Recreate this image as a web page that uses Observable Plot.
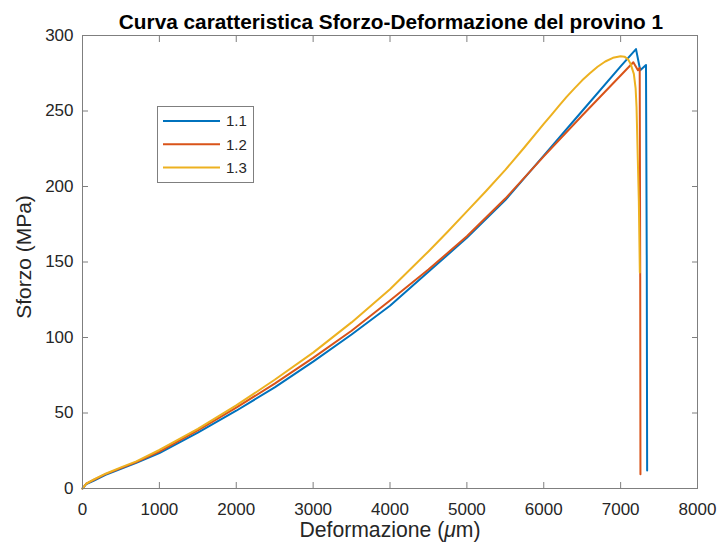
<!DOCTYPE html>
<html><head><meta charset="utf-8">
<script src="https://cdn.jsdelivr.net/npm/d3@7"></script>
<script src="https://cdn.jsdelivr.net/npm/@observablehq/plot@0.6"></script>
<style>body{margin:0;background:#fff}#chart{width:721px;height:546px}</style>
</head><body><div id="chart"></div>
<script>
const seriesNames = ["1.1", "1.2", "1.3"];
const seriesColors = ["#0072BD", "#D95319", "#EDB120"];

const x11 = [0, 50, 150, 300, 500, 700, 1000, 1500, 2000, 2500, 3000, 3500, 4000, 4500, 5000, 5500, 6000, 6500, 7000, 7200, 7255, 7330, 7340, 7345];
const y11 = [0, 3, 5.3, 9, 13, 17, 23.5, 37, 51.5, 67, 84, 102, 121, 143.5, 166, 191, 220.5, 250, 279.5, 291, 277, 280.5, 150, 12];

const x12 = [0, 50, 150, 300, 500, 700, 1000, 1500, 2000, 2500, 3000, 3500, 4000, 4500, 5000, 5500, 6000, 6500, 7000, 7165, 7225, 7248, 7255, 7258];
const y12 = [0, 3.2, 5.8, 9.5, 13.5, 17.5, 24.5, 38.5, 53.5, 69.5, 86.5, 104.5, 124.5, 145, 167, 192, 220, 247, 273.5, 282.3, 277, 278.5, 140, 9.5];

const x13 = [0, 50, 150, 300, 500, 700, 1000, 1500, 2000, 2500, 3000, 3500, 4000, 4500, 4750, 5000, 5250, 5500, 5750, 6000, 6100, 6200, 6300, 6400, 6500, 6600, 6700, 6800, 6900, 7000, 7050, 7100, 7130, 7172, 7195, 7207, 7224, 7237, 7250];
const y13 = [0, 3.3, 6, 9.8, 14, 18, 25.5, 39.5, 55, 72, 90, 110, 132, 157, 170, 183.5, 197, 211, 226, 241.5, 247.5, 253.5, 259.5, 265, 270.3, 275, 279.3, 282.8, 285.2, 286.3, 286, 284, 281.2, 274.6, 265, 252.5, 217, 190, 143];

const xTicks = [0, 1000, 2000, 3000, 4000, 5000, 6000, 7000, 8000];
const yTicks = [0, 50, 100, 150, 200, 250, 300];

const titleText = "Curva caratteristica Sforzo-Deformazione del provino 1";
const xLabelMain = "Deformazione (";
const xLabelMu = "μ";
const xLabelEnd = "m)";
const yLabel = "Sforzo (MPa)";

const rows = [];
[[x11, y11], [x12, y12], [x13, y13]].forEach(([xs, ys], i) =>
  xs.forEach((x, j) => rows.push({series: seriesNames[i], x, y: ys[j]})));

const font = "'Liberation Sans', Arial, Helvetica, sans-serif";
const axisGray = "#7f7f7f";
const textDark = "#262626";
const fmt = d => String(d);

const plot = Plot.plot({
  width: 721, height: 546,
  marginLeft: 82, marginRight: 24, marginTop: 35, marginBottom: 58,
  style: {fontFamily: font, fontSize: "17px", color: textDark, background: "#fff", overflow: "visible"},
  x: {domain: [0, 8000], label: null},
  y: {domain: [0, 300], label: null},
  color: {domain: seriesNames, range: seriesColors},
  marks: [
    Plot.line(rows, {x: "x", y: "y", z: "series", stroke: "series", strokeWidth: 2, strokeLinejoin: "round"}),
    Plot.frame({stroke: axisGray}),
    Plot.axisX(xTicks, {anchor: "bottom", tickSize: -6, fill: "none", stroke: axisGray, label: null}),
    Plot.axisX(xTicks, {anchor: "top", tickSize: -6, fill: "none", stroke: axisGray, label: null}),
    Plot.axisY(yTicks, {anchor: "left", tickSize: -6, fill: "none", stroke: axisGray, label: null}),
    Plot.axisY(yTicks, {anchor: "right", tickSize: -6, fill: "none", stroke: axisGray, label: null}),
    Plot.axisX(xTicks, {anchor: "bottom", tickSize: 0, tickPadding: 14, tickFormat: fmt, fill: textDark, fontSize: 17, label: null}),
    Plot.axisY(yTicks, {anchor: "left", tickSize: 0, tickPadding: 9, tickFormat: fmt, fill: textDark, fontSize: 17, label: null})
  ]
});

document.getElementById("chart").appendChild(plot);

const svg = d3.select(plot);
// title
svg.append("text")
  .attr("x", 391).attr("y", 29)
  .attr("text-anchor", "middle")
  .attr("font-family", font).attr("font-size", 20.8).attr("font-weight", "bold")
  .attr("fill", "#000").text(titleText);
// x-axis label with italic mu
const xl = svg.append("text")
  .attr("x", 390).attr("y", 537)
  .attr("text-anchor", "middle")
  .attr("font-family", font).attr("font-size", 21.2).attr("fill", textDark);
xl.append("tspan").text(xLabelMain);
xl.append("tspan").attr("font-style", "italic").text(xLabelMu);
xl.append("tspan").text(xLabelEnd);
// y-axis label
svg.append("text")
  .attr("transform", "translate(31,257) rotate(-90)")
  .attr("text-anchor", "middle")
  .attr("font-family", font).attr("font-size", 21).attr("fill", textDark)
  .text(yLabel);

// legend
const lg = svg.append("g").attr("font-family", font).attr("font-size", 15).attr("text-anchor", "start");
lg.append("rect").attr("x", 157.5).attr("y", 106.5).attr("width", 96).attr("height", 76)
  .attr("fill", "#fff").attr("stroke", axisGray);
seriesNames.forEach((name, i) => {
  const yy = 121 + i * 23.3;
  lg.append("line").attr("x1", 163).attr("x2", 220).attr("y1", yy).attr("y2", yy)
    .attr("stroke", seriesColors[i]).attr("stroke-width", 2);
  lg.append("text").attr("x", 226).attr("y", yy).attr("dy", "0.36em")
    .attr("fill", textDark).text(name);
});
</script>
</body></html>
